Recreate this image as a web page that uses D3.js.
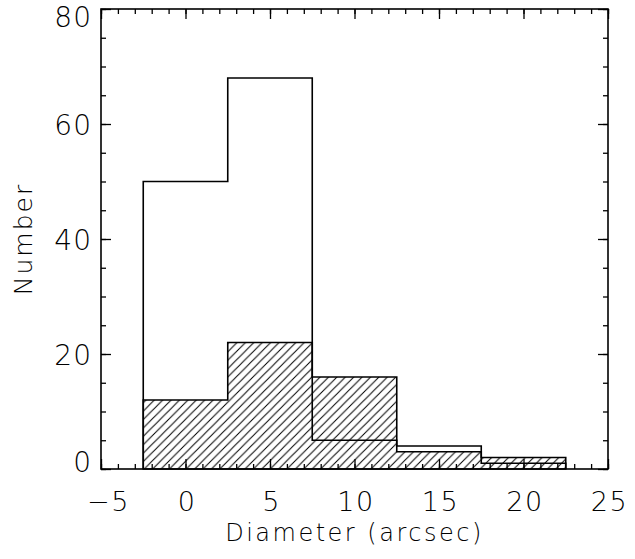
<!DOCTYPE html>
<html>
<head>
<meta charset="utf-8">
<script src="https://cdn.jsdelivr.net/npm/d3@7"></script>
<style>
  body { margin: 0; background: #fff; }
  svg text { font-family: "DejaVu Sans", sans-serif; font-weight: 200; fill: #000; }
</style>
</head>
<body>
<script>
// histogram bins (centres, width 5)
var binCenters = [0, 5, 10, 15, 20];
var binWidth = 5;
// open histogram: whole sample
var allCounts = [50, 68, 5, 4, 1];
// hatched histogram
var hatchCounts = [12, 22, 16, 3, 2];

var xTicks = [-5, 0, 5, 10, 15, 20, 25];
var yTicks = [0, 20, 40, 60, 80];

var width = 635, height = 559;
var margin = {left: 101, right: 27, top: 9, bottom: 90};

var svg = d3.select("body").append("svg")
  .attr("width", width)
  .attr("height", height);

var xScale = d3.scaleLinear()
  .domain([-5, 25])
  .range([margin.left, width - margin.right]);

var yScale = d3.scaleLinear()
  .domain([0, 80])
  .range([height - margin.bottom, margin.top]);

var x0 = xScale.range()[0], x1 = xScale.range()[1];
var y0 = yScale.range()[0], y1 = yScale.range()[1];

// hatch pattern, lines going "/"
var hs = 8.4;
var pat = svg.append("defs").append("pattern")
  .attr("id", "hatch")
  .attr("patternUnits", "userSpaceOnUse")
  .attr("width", hs)
  .attr("height", hs);
pat.append("path")
  .attr("d", "M0," + hs + "L" + hs + ",0M-2,2L2,-2M" + (hs - 2) + "," + (hs + 2) + "L" + (hs + 2) + "," + (hs - 2))
  .attr("stroke", "#000")
  .attr("stroke-width", 1);

// builds a step outline for a histogram
function stepPoints(counts) {
  var pts = [];
  counts.forEach(function(c, i) {
    var a = binCenters[i] - binWidth / 2, b = binCenters[i] + binWidth / 2;
    if (i == 0) pts.push([a, 0]);
    pts.push([a, c]);
    pts.push([b, c]);
  });
  pts.push([binCenters[counts.length - 1] + binWidth / 2, 0]);
  return pts;
}

var line = d3.line()
  .x(function(d) { return xScale(d[0]); })
  .y(function(d) { return yScale(d[1]); });

// hatched area
svg.append("path")
  .attr("d", line(stepPoints(hatchCounts)) + "Z")
  .attr("fill", "url(#hatch)")
  .attr("stroke", "#000")
  .attr("stroke-width", 1.6);

// open histogram outline
svg.append("path")
  .attr("d", line(stepPoints(allCounts)))
  .attr("fill", "none")
  .attr("stroke", "#000")
  .attr("stroke-width", 1.6);

// frame
svg.append("rect")
  .attr("x", x0).attr("y", y1)
  .attr("width", x1 - x0).attr("height", y0 - y1)
  .attr("fill", "none")
  .attr("stroke", "#000")
  .attr("stroke-width", 1.6);

var minorX = d3.range(-5, 26, 1);
var minorY = d3.range(0, 81, 5);

function addAxis(axis, tx, ty) {
  var g = svg.append("g")
    .attr("transform", "translate(" + tx + "," + ty + ")")
    .call(axis);
  g.select(".domain").remove();
  g.selectAll("line").attr("stroke", "#000").attr("stroke-width", 1.3);
  return g;
}

// minor ticks on all four sides
addAxis(d3.axisBottom(xScale).tickValues(minorX).tickSize(-5).tickFormat(""), 0, y0);
addAxis(d3.axisTop(xScale).tickValues(minorX).tickSize(-5).tickFormat(""), 0, y1);
addAxis(d3.axisLeft(yScale).tickValues(minorY).tickSize(-5).tickFormat(""), x0, 0);
addAxis(d3.axisRight(yScale).tickValues(minorY).tickSize(-5).tickFormat(""), x1, 0);

// major ticks
var gx = addAxis(d3.axisBottom(xScale).tickValues(xTicks).tickSize(-10).tickPadding(23)
  .tickFormat(function(d) { return d < 0 ? "\u2212" + (-d) : d; }), 0, y0);
addAxis(d3.axisTop(xScale).tickValues(xTicks).tickSize(-10).tickFormat(""), 0, y1);
var gy = addAxis(d3.axisLeft(yScale).tickValues(yTicks).tickSize(-10).tickPadding(9), x0, 0);
addAxis(d3.axisRight(yScale).tickValues(yTicks).tickSize(-10).tickFormat(""), x1, 0);

gx.selectAll("text")
  .attr("font-size", 27)
  .attr("font-family", "DejaVu Sans")
  .attr("letter-spacing", 1.5)
  .attr("dx", function(d) { return d < 0 ? 7 : 1; });
gy.selectAll("text")
  .attr("font-size", 28)
  .attr("font-family", "DejaVu Sans")
  .attr("letter-spacing", 1)
  .attr("dy", function(d) {
    // end labels sit a little inside the frame
    if (d == 80) return "0.62em";
    if (d == 0) return "0.08em";
    return "0.38em";
  });

// axis titles
svg.append("text")
  .attr("x", (x0 + x1) / 2)
  .attr("y", 541)
  .attr("text-anchor", "middle")
  .attr("font-size", 24)
  .attr("letter-spacing", 2.5)
  .text("Diameter (arcsec)");

svg.append("text")
  .attr("transform", "translate(32," + ((y0 + y1) / 2) + ")rotate(-90)")
  .attr("text-anchor", "middle")
  .attr("font-size", 25)
  .attr("letter-spacing", 2)
  .text("Number");
</script>
</body>
</html>
